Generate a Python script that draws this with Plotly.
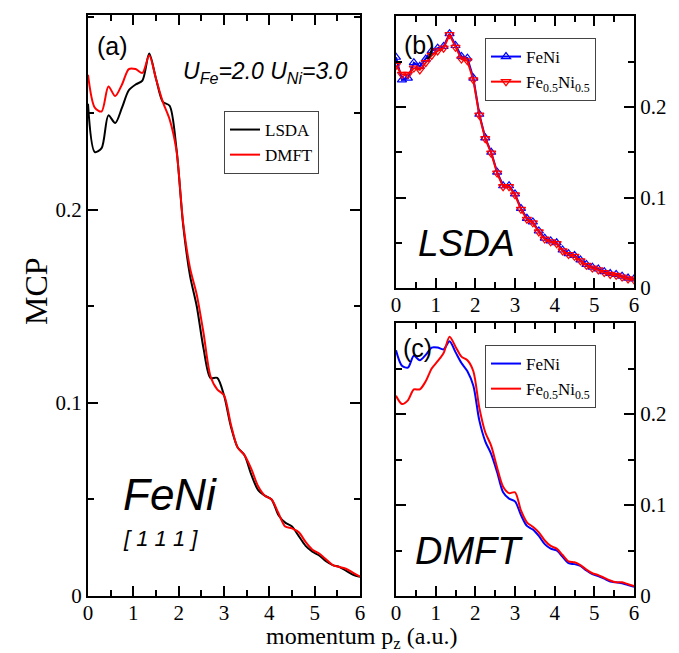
import plotly.graph_objects as go

W, H = 679, 653

# ---------------- data ----------------
momentum = [0.00, 0.15, 0.30, 0.45, 0.60, 0.75, 0.90, 1.05, 1.20, 1.35,
            1.50, 1.65, 1.80, 1.95, 2.10, 2.25, 2.40, 2.55, 2.70, 2.85,
            3.00, 3.15, 3.30, 3.45, 3.60, 3.75, 3.90, 4.05, 4.20, 4.35,
            4.50, 4.65, 4.80, 4.95, 5.10, 5.25, 5.40, 5.55, 5.70, 5.85, 6.00]

lsda_feni = [0.255, 0.230, 0.232, 0.249, 0.245, 0.253, 0.262, 0.265, 0.267, 0.281,
             0.268, 0.256, 0.254, 0.232, 0.192, 0.166, 0.150, 0.128, 0.113, 0.113,
             0.104, 0.088, 0.077, 0.073, 0.063, 0.055, 0.052, 0.050, 0.042, 0.038,
             0.036, 0.031, 0.026, 0.023, 0.021, 0.018, 0.016, 0.015, 0.013, 0.011, 0.010]

lsda_fe05 = [0.246, 0.236, 0.236, 0.243, 0.241, 0.249, 0.257, 0.262, 0.265, 0.280,
             0.266, 0.253, 0.251, 0.230, 0.191, 0.165, 0.149, 0.127, 0.112, 0.112,
             0.103, 0.087, 0.076, 0.072, 0.062, 0.054, 0.051, 0.049, 0.041, 0.037,
             0.035, 0.030, 0.025, 0.022, 0.020, 0.017, 0.015, 0.014, 0.012, 0.010, 0.009]

dmft_feni = [0.270, 0.253, 0.251, 0.264, 0.259, 0.265, 0.273, 0.273, 0.271, 0.280,
             0.268, 0.256, 0.247, 0.231, 0.193, 0.170, 0.156, 0.136, 0.114, 0.107,
             0.104, 0.089, 0.077, 0.073, 0.066, 0.057, 0.052, 0.050, 0.043, 0.036,
             0.035, 0.033, 0.028, 0.024, 0.022, 0.019, 0.016, 0.015, 0.014, 0.012, 0.010]

dmft_fe05 = [0.220, 0.211, 0.215, 0.227, 0.227, 0.236, 0.250, 0.258, 0.267, 0.285,
             0.274, 0.263, 0.259, 0.247, 0.207, 0.180, 0.165, 0.141, 0.120, 0.113,
             0.114, 0.094, 0.081, 0.076, 0.070, 0.061, 0.055, 0.052, 0.045, 0.038,
             0.037, 0.034, 0.029, 0.025, 0.023, 0.020, 0.017, 0.015, 0.015, 0.013, 0.011]

x_ticks = [0, 1, 2, 3, 4, 5, 6]
y_ticks = [0, 0.1, 0.2]
y_ticklabels = ["0", "0.1", "0.2"]

# ---------------- helpers ----------------
def fx(px):
    return px / W

def fy(py):
    return 1 - py / H

SERIF = "Liberation Serif"
SANS = "Liberation Sans"

fig = go.Figure()

# Panel (a)
fig.add_trace(go.Scatter(x=momentum, y=lsda_feni, mode="lines", name="LSDA",
                         line=dict(color="black", width=2, shape="spline", smoothing=0.8),
                         xaxis="x", yaxis="y", legend="legend"))
fig.add_trace(go.Scatter(x=momentum, y=dmft_feni, mode="lines", name="DMFT",
                         line=dict(color="red", width=2, shape="spline", smoothing=0.8),
                         xaxis="x", yaxis="y", legend="legend"))

# Panel (b) LSDA
fig.add_trace(go.Scatter(x=momentum, y=lsda_feni, mode="lines+markers", name="FeNi",
                         line=dict(color="blue", width=2),
                         marker=dict(symbol="triangle-up-open", size=8, color="blue",
                                     line=dict(width=1.2)),
                         xaxis="x2", yaxis="y2", legend="legend2"))
fig.add_trace(go.Scatter(x=momentum, y=lsda_fe05, mode="lines+markers",
                         name="Fe<sub>0.5</sub>Ni<sub>0.5</sub>",
                         line=dict(color="red", width=2),
                         marker=dict(symbol="triangle-down-open", size=8, color="red",
                                     line=dict(width=1.2)),
                         xaxis="x2", yaxis="y2", legend="legend2"))

# Panel (c) DMFT
fig.add_trace(go.Scatter(x=momentum, y=dmft_feni, mode="lines", name="FeNi",
                         line=dict(color="blue", width=2, shape="spline", smoothing=0.8),
                         xaxis="x3", yaxis="y3", legend="legend3"))
fig.add_trace(go.Scatter(x=momentum, y=dmft_fe05, mode="lines",
                         name="Fe<sub>0.5</sub>Ni<sub>0.5</sub>",
                         line=dict(color="red", width=2, shape="spline", smoothing=0.8),
                         xaxis="x3", yaxis="y3", legend="legend3"))

tickfont = dict(family=SERIF, size=21, color="black")

def xaxis(domain, anchor):
    return dict(domain=domain, anchor=anchor, range=[0, 6], tickvals=x_ticks,
                showline=True, linecolor="black", linewidth=2, mirror="ticks",
                ticks="inside", ticklen=10, tickwidth=1.5, tickcolor="black",
                minor=dict(dtick=0.5, ticks="inside", ticklen=6, tickwidth=1.5,
                           tickcolor="black", showgrid=False),
                showgrid=False, zeroline=False, tickfont=tickfont,
                ticklabelstandoff=-3, automargin=False)

def yaxis(domain, anchor, top, side):
    return dict(domain=domain, anchor=anchor, range=[0, top], tickvals=y_ticks,
                ticktext=y_ticklabels, side=side,
                showline=True, linecolor="black", linewidth=2, mirror="ticks",
                ticks="inside", ticklen=10, tickwidth=1.5, tickcolor="black",
                minor=dict(dtick=0.05, ticks="inside", ticklen=6, tickwidth=1.5,
                           tickcolor="black", showgrid=False),
                showgrid=False, zeroline=False, tickfont=tickfont,
                automargin=False)

xa = [fx(80), fx(352)]
xb = [fx(388), fx(626)]

legend_common = dict(bgcolor="white", bordercolor="#444", borderwidth=1,
                     font=dict(family=SERIF, size=17, color="black"),
                     xanchor="left", yanchor="top", tracegroupgap=0,
                     itemwidth=30)

fig.update_layout(
    width=W, height=H,
    margin=dict(l=0, r=0, t=0, b=0, autoexpand=False),
    paper_bgcolor="white", plot_bgcolor="white",
    xaxis=xaxis(xa, "y"),
    yaxis=yaxis([fy(588), fy(7)], "x", 0.301, "left"),
    xaxis2=xaxis(xb, "y2"),
    yaxis2=yaxis([fy(280), fy(8)], "x2", 0.3006, "right"),
    xaxis3=xaxis(xb, "y3"),
    yaxis3=yaxis([fy(588), fy(315)], "x3", 0.300, "right"),
    legend=dict(x=fx(216), y=fy(103), **legend_common),
    legend2=dict(x=fx(477), y=fy(30), **legend_common),
    legend3=dict(x=fx(477), y=fy(337), **legend_common),
    showlegend=True,
)

def ann(text, px, py, size, family=SANS, italic=False, angle=0):
    fig.add_annotation(text=text, x=fx(px), y=fy(py), xref="paper", yref="paper",
                       showarrow=False, xanchor="center", yanchor="middle",
                       textangle=angle,
                       font=dict(family=family, size=size, color="black",
                                 style="italic" if italic else "normal"))

ann("(a)", 104, 38, 25)
ann("U<sub>Fe</sub>=2.0 U<sub>Ni</sub>=3.0", 257, 64, 23, italic=True)
ann("FeNi", 162, 487, 44, italic=True)
ann("[ 1 1 1 ]", 152, 530, 22, italic=True)
ann("(b)", 411, 37, 25)
ann("LSDA", 458, 235, 37, italic=True)
ann("(c)", 409, 340, 25)
ann("DMFT", 461, 543, 38, italic=True)
ann("MCP", 28, 283, 32, family=SERIF, angle=-90)
ann("momentum p<sub>z</sub> (a.u.)", 353, 630, 24, family=SERIF)

fig.write_html("out.html")
